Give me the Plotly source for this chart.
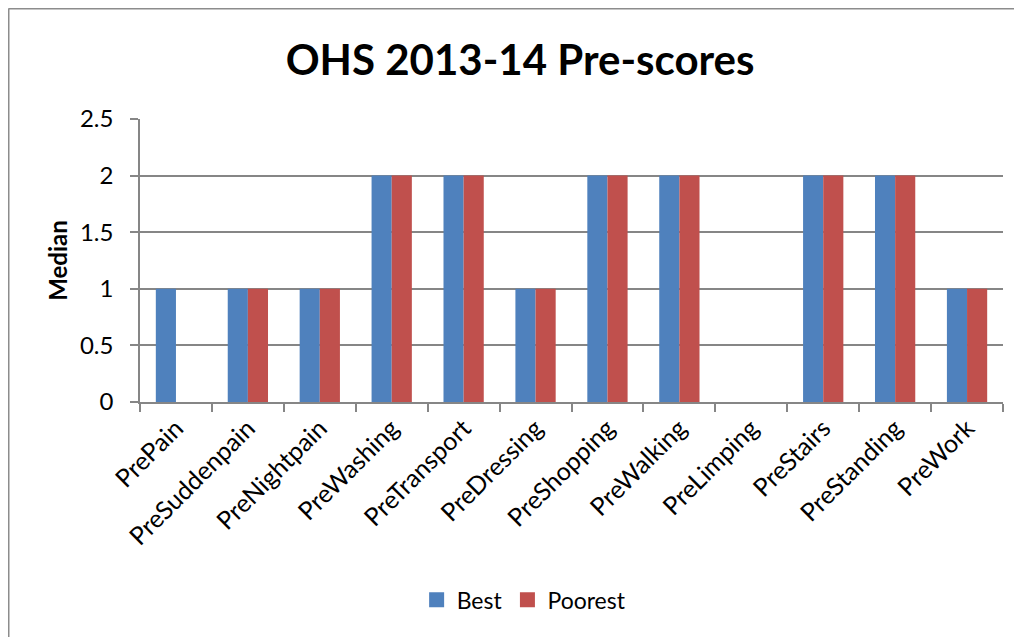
import plotly.graph_objects as go

categories = ["PrePain", "PreSuddenpain", "PreNightpain", "PreWashing", "PreTransport",
              "PreDressing", "PreShopping", "PreWalking", "PreLimping", "PreStairs",
              "PreStanding", "PreWork"]
best = [1, 1, 1, 2, 2, 1, 2, 2, 0, 2, 2, 1]
poorest = [0, 1, 1, 2, 2, 1, 2, 2, 0, 2, 2, 1]
y_ticks = [0, 0.5, 1, 1.5, 2, 2.5]
y_tick_labels = ["0", "0.5", "1", "1.5", "2", "2.5"]

FONT = "Lato, Calibri, Carlito, sans-serif"
BLUE, RED = "#4F81BD", "#C0504D"

W, H = 1014, 629
L, R, T, B = 132, 19, 111, 235
PW, PH = W - L - R, H - T - B

fig = go.Figure()
fig.add_trace(go.Bar(x=categories, y=best, name="Best", marker_color=BLUE,
                     marker_line_width=0, showlegend=False, legendgroup="b"))
fig.add_trace(go.Bar(x=categories, y=poorest, name="Poorest", marker_color=RED,
                     marker_line_width=0, showlegend=False, legendgroup="p"))
# legend entries with square swatches
fig.add_trace(go.Scatter(x=[None], y=[None], mode="markers", name="Best", legendgroup="b",
                         marker=dict(symbol="square", size=15, color=BLUE, line=dict(width=0))))
fig.add_trace(go.Scatter(x=[None], y=[None], mode="markers", name="Poorest", legendgroup="p",
                         marker=dict(symbol="square", size=15, color=RED, line=dict(width=0))))

fig.update_layout(
    width=W, height=H,
    margin=dict(l=L, r=R, t=T, b=B, autoexpand=False),
    paper_bgcolor="white", plot_bgcolor="white",
    barmode="group", bargap=0.44, bargroupgap=0,
    font=dict(family=FONT, size=24, color="black"),
    title=dict(text="<b>OHS 2013-14 Pre-scores</b>", font=dict(size=42, family=FONT, color="black"),
               xref="container", x=0.505, xanchor="center", yref="container", y=0.917, yanchor="middle"),
    legend=dict(orientation="h", xref="container", x=0.509, xanchor="center",
                yref="container", y=0.059, yanchor="middle", font=dict(size=23, family=FONT),
                itemwidth=30, tracegroupgap=0, itemsizing="trace"),
    showlegend=True,
)
fig.update_xaxes(
    showline=True, linecolor="#868686", linewidth=1.5,
    ticks="outside", ticklen=8, tickcolor="#868686", tickwidth=1.5,
    tickson="boundaries", tickangle=-45, tickfont=dict(size=25, family=FONT),
    showgrid=False, automargin=False,
)
fig.update_yaxes(
    range=[0, 2.5], tickvals=y_ticks, ticktext=y_tick_labels,
    showline=True, linecolor="#868686", linewidth=1.5,
    ticks="outside", ticklen=8, tickcolor="#868686", tickwidth=1.5,
    showgrid=True, gridcolor="#868686", gridwidth=1.5,
    tickfont=dict(size=24, family=FONT), ticklabelstandoff=12,
    title=dict(text="<b>Median</b>", font=dict(size=24, family=FONT), standoff=6),
    zeroline=False, automargin=False,
)
# chart outer border (Excel chart area): top and left edges
top_y = (T + PH - 0.5) / PH
left_x = (0.5 - L) / PW
fig.add_shape(type="line", xref="x domain", yref="y domain",
              x0=left_x, x1=(W - L) / PW, y0=top_y, y1=top_y,
              line=dict(color="#8C8C8C", width=2))
fig.add_shape(type="line", xref="x domain", yref="y domain",
              x0=left_x, x1=left_x, y0=top_y, y1=-B / PH,
              line=dict(color="#8C8C8C", width=2))

fig.write_html("out.html")
